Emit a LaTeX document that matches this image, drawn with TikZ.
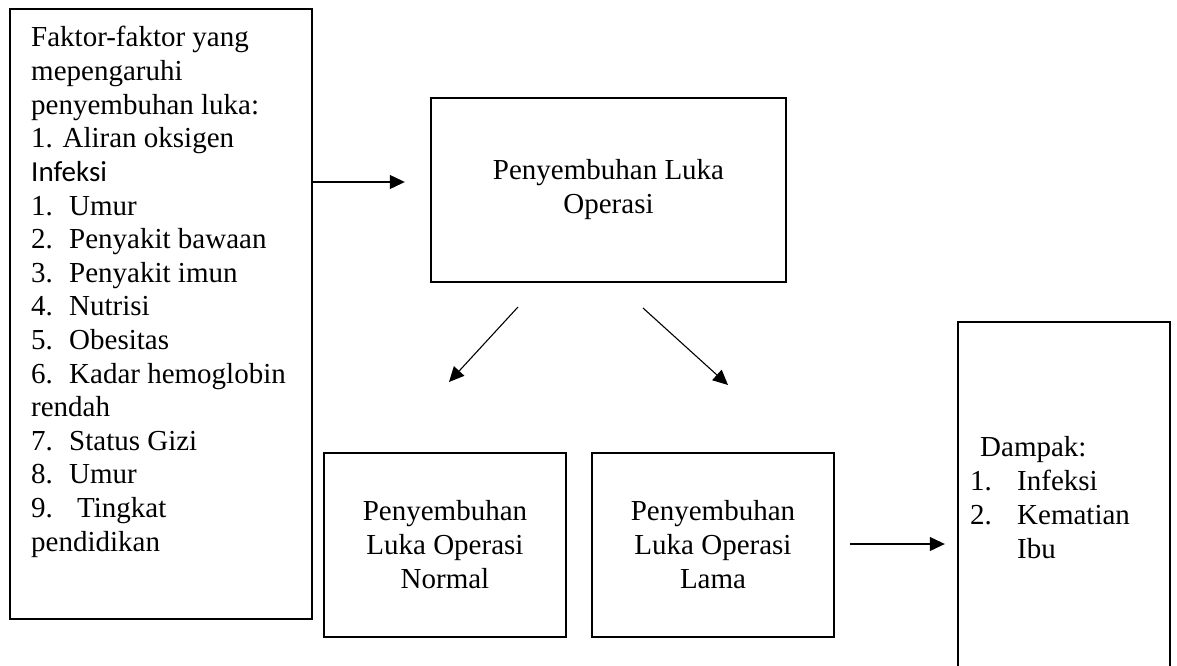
\documentclass[tikz,border=0pt]{standalone}
\usepackage{fontspec}
\setmainfont{Liberation Serif}
\newfontfamily\calibrifont{Carlito}
\usetikzlibrary{arrows.meta}
\begin{document}
\begin{tikzpicture}[x=1pt,y=-1pt,
  box/.style={draw=black,line width=2.4pt,rectangle,inner sep=0pt,align=center,
    font=\fontsize{29}{34}\selectfont},
  txt/.style={anchor=base west,inner sep=0pt,font=\fontsize{29}{34}\selectfont},
  arr/.style={line width=1.1pt,-{Triangle[length=15pt,width=14pt]}}]
\useasboundingbox (0,0) rectangle (1177,666);
\clip (0,0) rectangle (1177,666);
\fill[white] (0,0) rectangle (1177,666);

% boxes
\node[box,minimum width=302pt,minimum height=610pt] (lb) at (161,314) {};
\node[box,minimum width=355pt,minimum height=184pt] (tb) at (608.5,190) {Penyembuhan Luka\\Operasi};
\node[box,minimum width=242pt,minimum height=184pt] (nb) at (445,545) {Penyembuhan\\Luka Operasi\\Normal};
\node[box,minimum width=242pt,minimum height=184pt] (lm) at (713,545) {Penyembuhan\\Luka Operasi\\Lama};
\node[box,minimum width=212pt,minimum height=378pt] (db) at (1064,511) {};

% left box text
\node[txt] (l0) at (31,47) {Faktor-faktor yang};
\node[txt] (l1) at (31,80.6) {mepengaruhi};
\node[txt] (l2) at (31,114.2) {penyembuhan luka:};
\node[txt] (l3) at (31,147.8) {1. Aliran oksigen};
\node[txt] (l4) at (31,181.4) {\calibrifont Infeksi};
\node[txt] (n5) at (31,215) {1.};
\node[txt] (t5) at (69,215) {Umur};
\node[txt] (n6) at (31,248.6) {2.};
\node[txt] (t6) at (69,248.6) {Penyakit bawaan};
\node[txt] (n7) at (31,282.2) {3.};
\node[txt] (t7) at (69,282.2) {Penyakit imun};
\node[txt] (n8) at (31,315.8) {4.};
\node[txt] (t8) at (69,315.8) {Nutrisi};
\node[txt] (n9) at (31,349.4) {5.};
\node[txt] (t9) at (69,349.4) {Obesitas};
\node[txt] (n10) at (31,383) {6.};
\node[txt] (t10) at (69,383) {Kadar hemoglobin};
\node[txt] (l11) at (31,416.6) {rendah};
\node[txt] (n12) at (31,450.2) {7.};
\node[txt] (t12) at (69,450.2) {Status Gizi};
\node[txt] (n13) at (31,483.8) {8.};
\node[txt] (t13) at (69,483.8) {Umur};
\node[txt] (n14) at (31,517.4) {9.};
\node[txt] (t14) at (77,517.4) {Tingkat};
\node[txt] (l15) at (31,551) {pendidikan};

% Dampak text
\node[txt] (d0) at (980,456) {Dampak:};
\node[txt] (d1n) at (970,490) {1.};
\node[txt] (d1t) at (1017,490) {Infeksi};
\node[txt] (d2n) at (970,524) {2.};
\node[txt] (d2t) at (1017,524) {Kematian};
\node[txt] (d3t) at (1017,558) {Ibu};

% connectors
\draw[arr,shorten >=25pt] (lb.east |- 0,182) -- (tb.west |- 0,182);
\coordinate (a1s) at (518,307);
\coordinate (a1e) at (449,382);
\coordinate (a2s) at (643,308);
\coordinate (a2e) at (728,385);
\draw[arr] (a1s) -- (a1e);
\draw[arr] (a2s) -- (a2e);
\draw[arr,shorten <=15pt,shorten >=12pt] (lm.east |- 0,544) -- (db.west |- 0,544);
\end{tikzpicture}
\end{document}
